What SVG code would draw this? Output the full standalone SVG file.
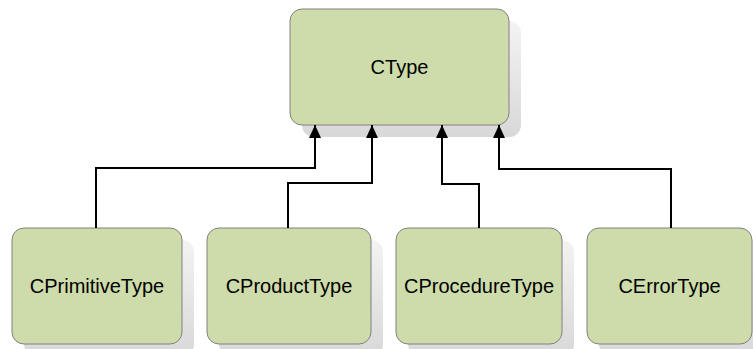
<svg xmlns="http://www.w3.org/2000/svg" width="753" height="349" viewBox="0 0 753 349">
  <style>
    .box { fill: #cddcaa; stroke: #808080; stroke-width: 1; }
    .shadow { fill: url(#shade); }
    .label { font-family: "Liberation Sans", Arial, sans-serif; font-size: 20px; fill: #000; text-anchor: middle; }
    .conn { fill: none; stroke: #000; stroke-width: 2; marker-end: url(#arrow); }
  </style>
  <defs>
    <linearGradient id="shade" x1="0" y1="0" x2="0" y2="1">
      <stop offset="0" stop-color="#f3f3f3"/>
      <stop offset="0.5" stop-color="#e6e6e6"/>
      <stop offset="1" stop-color="#d8d8d8"/>
    </linearGradient>
    <!-- filled triangular head, 13 long and 12 wide -->
    <marker id="arrow" viewBox="0 0 13 12" refX="13" refY="6" markerWidth="13" markerHeight="12" markerUnits="userSpaceOnUse" orient="auto">
      <path d="M0,0 L13,6 L0,12 Z" fill="#000"/>
    </marker>
  </defs>

  <rect width="753" height="349" fill="#fff"/>

  <g id="CType">
    <rect class="shadow" x="302" y="21" width="219" height="116" rx="12"/>
    <rect class="box" x="290" y="9" width="219" height="116" rx="12"/>
    <text class="label" x="399.5" y="74">CType</text>
  </g>

  <g id="CPrimitiveType">
    <rect class="shadow" x="24" y="240" width="170" height="116" rx="12"/>
    <rect class="box" x="12" y="228" width="170" height="116" rx="12"/>
    <text class="label" x="97" y="293">CPrimitiveType</text>
  </g>

  <g id="CProductType">
    <rect class="shadow" x="219" y="240" width="164" height="116" rx="12"/>
    <rect class="box" x="207" y="228" width="164" height="116" rx="12"/>
    <text class="label" x="289" y="293">CProductType</text>
  </g>

  <g id="CProcedureType">
    <rect class="shadow" x="408" y="240" width="166" height="116" rx="12"/>
    <rect class="box" x="396" y="228" width="166" height="116" rx="12"/>
    <text class="label" x="479" y="293">CProcedureType</text>
  </g>

  <g id="CErrorType">
    <rect class="shadow" x="599" y="240" width="165" height="116" rx="12"/>
    <rect class="box" x="587" y="228" width="165" height="116" rx="12"/>
    <text class="label" x="669.5" y="293">CErrorType</text>
  </g>

  <g id="connectors">
    <path class="conn" d="M96,228 V168 H315 V125"/>
    <path class="conn" d="M288,228 V183 H372 V125"/>
    <path class="conn" d="M479,228 V184 H442 V125"/>
    <path class="conn" d="M671,228 V169 H499 V125"/>
  </g>
</svg>
